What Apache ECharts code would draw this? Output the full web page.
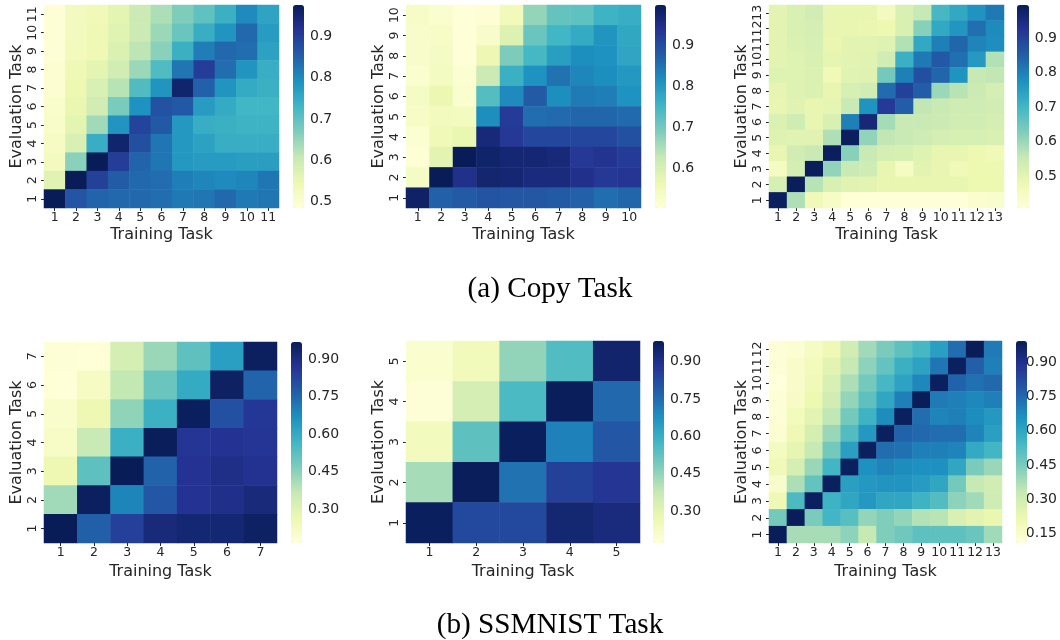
<!DOCTYPE html>
<html>
<head>
<meta charset="utf-8">
<style>html,body{margin:0;padding:0;background:#fff}#c{width:1060px;height:640px}</style>
<script src="https://cdn.jsdelivr.net/npm/echarts@6/dist/echarts.min.js"></script>
</head>
<body>
<div id="c"></div>
<script>
// Values: each matrix lists Evaluation Task rows from top (highest) to bottom (task 1).
const copy11 = [
[.49,.525,.535,.56,.6,.63,.67,.70,.74,.80,.76],
[.49,.525,.54,.565,.6,.645,.69,.745,.785,.84,.775],
[.49,.53,.54,.575,.615,.66,.74,.815,.84,.835,.765],
[.495,.54,.56,.59,.645,.715,.825,.90,.835,.785,.745],
[.495,.545,.58,.62,.715,.785,.955,.85,.785,.75,.74],
[.505,.55,.59,.675,.79,.87,.86,.775,.75,.73,.73],
[.51,.56,.64,.785,.89,.86,.78,.745,.74,.735,.735],
[.52,.58,.745,.955,.875,.825,.78,.765,.745,.745,.745],
[.525,.66,.975,.90,.845,.825,.78,.775,.775,.77,.77],
[.565,.975,.895,.855,.84,.835,.815,.805,.80,.805,.825],
[.975,.865,.845,.84,.84,.835,.82,.825,.84,.82,.825]];
const copy10 = [
[.53,.52,.505,.51,.55,.67,.715,.72,.755,.765],
[.525,.53,.505,.525,.59,.71,.75,.77,.805,.775],
[.525,.535,.505,.56,.69,.745,.79,.815,.81,.78],
[.52,.54,.515,.62,.76,.81,.85,.825,.815,.80],
[.535,.565,.52,.73,.82,.88,.815,.84,.835,.81],
[.53,.545,.54,.815,.925,.855,.86,.865,.865,.86],
[.515,.555,.57,.965,.93,.91,.91,.91,.91,.895],
[.51,.58,.998,.98,.97,.97,.965,.93,.94,.925],
[.535,.998,.945,.975,.97,.96,.96,.945,.93,.935],
[.985,.87,.88,.89,.885,.885,.88,.87,.855,.865]];
const copy13 = [
[.5,.52,.535,.49,.49,.49,.455,.52,.555,.695,.73,.77,.81],
[.5,.52,.53,.49,.49,.485,.48,.52,.62,.73,.765,.825,.785],
[.5,.515,.525,.485,.5,.5,.51,.575,.73,.80,.84,.795,.78],
[.5,.51,.52,.495,.5,.505,.535,.715,.81,.86,.825,.76,.575],
[.51,.51,.515,.47,.505,.51,.64,.80,.875,.84,.77,.555,.56],
[.495,.51,.515,.49,.525,.535,.83,.90,.85,.60,.57,.545,.53],
[.49,.505,.49,.495,.55,.77,.915,.85,.56,.55,.54,.54,.535],
[.515,.54,.49,.52,.80,.96,.59,.55,.55,.545,.535,.535,.53],
[.51,.505,.505,.58,.99,.61,.56,.55,.54,.53,.525,.525,.52],
[.49,.535,.55,.99,.62,.55,.53,.525,.51,.49,.49,.48,.47],
[.45,.53,.995,.61,.55,.54,.49,.45,.5,.49,.47,.48,.48],
[.525,.995,.57,.52,.505,.50,.49,.49,.49,.49,.49,.48,.48],
[.99,.58,.47,.44,.41,.41,.41,.41,.41,.41,.41,.425,.43]];
const ssm7 = [
[.175,.17,.33,.43,.52,.63,.955],
[.17,.22,.37,.50,.60,.95,.755],
[.2,.26,.445,.58,.96,.80,.86],
[.21,.36,.585,.965,.865,.87,.865],
[.26,.52,.968,.76,.87,.89,.875],
[.42,.955,.69,.785,.87,.885,.91],
[.968,.765,.84,.91,.925,.925,.95]];
const ssm5 = [
[.20,.25,.45,.55,.95],
[.18,.34,.56,.98,.76],
[.24,.53,.975,.71,.80],
[.42,.98,.74,.85,.88],
[.975,.83,.83,.94,.92]];
const ssm13 = [
[.12,.13,.17,.21,.30,.39,.45,.50,.54,.62,.74,.99,.71],
[.12,.15,.19,.25,.33,.42,.49,.57,.61,.72,.98,.77,.70],
[.11,.15,.20,.28,.37,.46,.54,.61,.68,.98,.76,.73,.75],
[.12,.16,.22,.30,.41,.50,.60,.70,.99,.71,.70,.68,.70],
[.12,.19,.25,.34,.46,.56,.67,.98,.74,.69,.70,.67,.64],
[.13,.21,.29,.40,.52,.64,.98,.76,.75,.74,.74,.69,.62],
[.18,.24,.33,.46,.62,.98,.74,.73,.70,.70,.69,.59,.55],
[.20,.29,.40,.55,.98,.66,.69,.67,.66,.66,.60,.45,.40],
[.15,.37,.49,.98,.62,.64,.65,.65,.63,.60,.46,.33,.30],
[.21,.53,.98,.56,.60,.64,.60,.60,.56,.52,.42,.39,.31],
[.46,.99,.45,.55,.51,.41,.44,.41,.36,.35,.28,.25,.23],
[.99,.38,.38,.38,.42,.33,.44,.47,.50,.50,.50,.48,.39]];

const copy11Ticks = [.5,.6,.7,.8,.9];
const copy10Ticks = [.6,.7,.8,.9];
const copy13Ticks = [.5,.6,.7,.8,.9];
const ssmTicks = [.30,.45,.60,.75,.90];
const ssm13Ticks = [.15,.30,.45,.60,.75,.90];

const xLabel = 'Training Task';
const yLabel = 'Evaluation Task';
const captions = ['(a) Copy Task', '(b) SSMNIST Task'];
const YlGnBu = ['#ffffd9','#edf8b1','#c7e9b4','#7fcdbb','#41b6c4','#1d91c0','#225ea8','#253494','#081d58'];

const panels = [
 {m:copy11, ticks:copy11Ticks, dec:1, vmin:.485, vmax:.975, l:44,  t:5,   w:235, h:203, cb:293, cw:11},
 {m:copy10, ticks:copy10Ticks, dec:1, vmin:.502, vmax:.998, l:406, t:5,   w:235, h:203, cb:655, cw:11},
 {m:copy13, ticks:copy13Ticks, dec:1, vmin:.407, vmax:.997, l:769, t:5,   w:235, h:203, cb:1017,cw:12},
 {m:ssm7,   ticks:ssmTicks,    dec:2, vmin:.166, vmax:.968, l:44,  t:342, w:233, h:201, cb:291, cw:11},
 {m:ssm5,   ticks:ssmTicks,    dec:2, vmin:.171, vmax:.983, l:406, t:341, w:234, h:202, cb:653, cw:11},
 {m:ssm13,  ticks:ssm13Ticks,  dec:2, vmin:.11,  vmax:.992, l:769, t:341, w:233, h:202, cb:1016,cw:11}
];

const FONT = 'DejaVu Sans', INK = '#262626';
const capStyle = {fontFamily:'Liberation Serif',fontSize:29.2,fontWeight:'normal',color:'#000'};
const opt = {animation:false, backgroundColor:'#fff', grid:[], xAxis:[], yAxis:[], series:[], visualMap:[],
 title:[
  {text:captions[0], left:545, top:270, textAlign:'center', textStyle:capStyle},
  {text:captions[1], left:545, top:606, textAlign:'center', textStyle:capStyle}
 ]};

panels.forEach((p,i)=>{
  const rows=p.m.length, cols=p.m[0].length;
  const xc=Array.from({length:cols},(_,k)=>String(k+1));
  const yc=Array.from({length:rows},(_,k)=>String(k+1));
  const data=[];
  p.m.forEach((r,ri)=>r.forEach((v,ci)=>data.push([ci,rows-1-ri,v])));
  const g=opt.grid.length;
  opt.grid.push({left:p.l,top:p.t,width:p.w,height:p.h,containLabel:false,show:false});
  const tick={show:true,alignWithLabel:true,length:3,lineStyle:{color:INK,width:1}};
  const common={nameLocation:'middle',nameTextStyle:{fontFamily:FONT,fontSize:16,color:INK},
    axisLine:{show:false},axisTick:tick,splitLine:{show:false},splitArea:{show:false}};
  opt.xAxis.push({...common,type:'category',gridIndex:g,data:xc,name:xLabel,nameGap:i<3?19:21,
    axisLabel:{interval:0,hideOverlap:false,margin:3,fontFamily:FONT,fontSize:12.5,color:INK}});
  opt.yAxis.push({...common,type:'category',gridIndex:g,data:yc,name:yLabel,nameGap:19,
    axisLabel:{interval:0,hideOverlap:false,rotate:90,margin:5,fontFamily:FONT,fontSize:12.5,color:INK}});
  opt.series.push({type:'heatmap',xAxisIndex:g,yAxisIndex:g,data:data,progressive:0,
    itemStyle:{borderWidth:0},emphasis:{disabled:true},silent:true});
  opt.visualMap.push({type:'continuous',seriesIndex:opt.series.length-1,dimension:2,min:p.vmin,max:p.vmax,
    left:p.cb,top:p.t,itemWidth:p.cw,itemHeight:p.h,padding:0,text:null,calculable:false,showLabel:false,
    hoverLink:false,inRange:{color:YlGnBu},textStyle:{fontSize:0}});
  // colour bar scale
  const g2=opt.grid.length;
  opt.grid.push({left:p.cb,top:p.t,width:p.cw,height:p.h,show:false});
  opt.xAxis.push({type:'value',gridIndex:g2,show:false,min:0,max:1});
  opt.yAxis.push({type:'value',gridIndex:g2,position:'right',min:p.vmin,max:p.vmax,
    axisLine:{show:false},splitLine:{show:false},
    axisTick:{show:true,length:3,lineStyle:{color:INK,width:1},customValues:p.ticks},
    axisLabel:{show:true,margin:6,padding:[2,0,0,0],fontFamily:FONT,fontSize:14,color:INK,customValues:p.ticks,
      formatter:v=>v.toFixed(p.dec),showMinLabel:true,showMaxLabel:true}});
});

const chart=echarts.init(document.getElementById('c'),null,{renderer:'canvas'});
chart.setOption(opt);
</script>
</body>
</html>
